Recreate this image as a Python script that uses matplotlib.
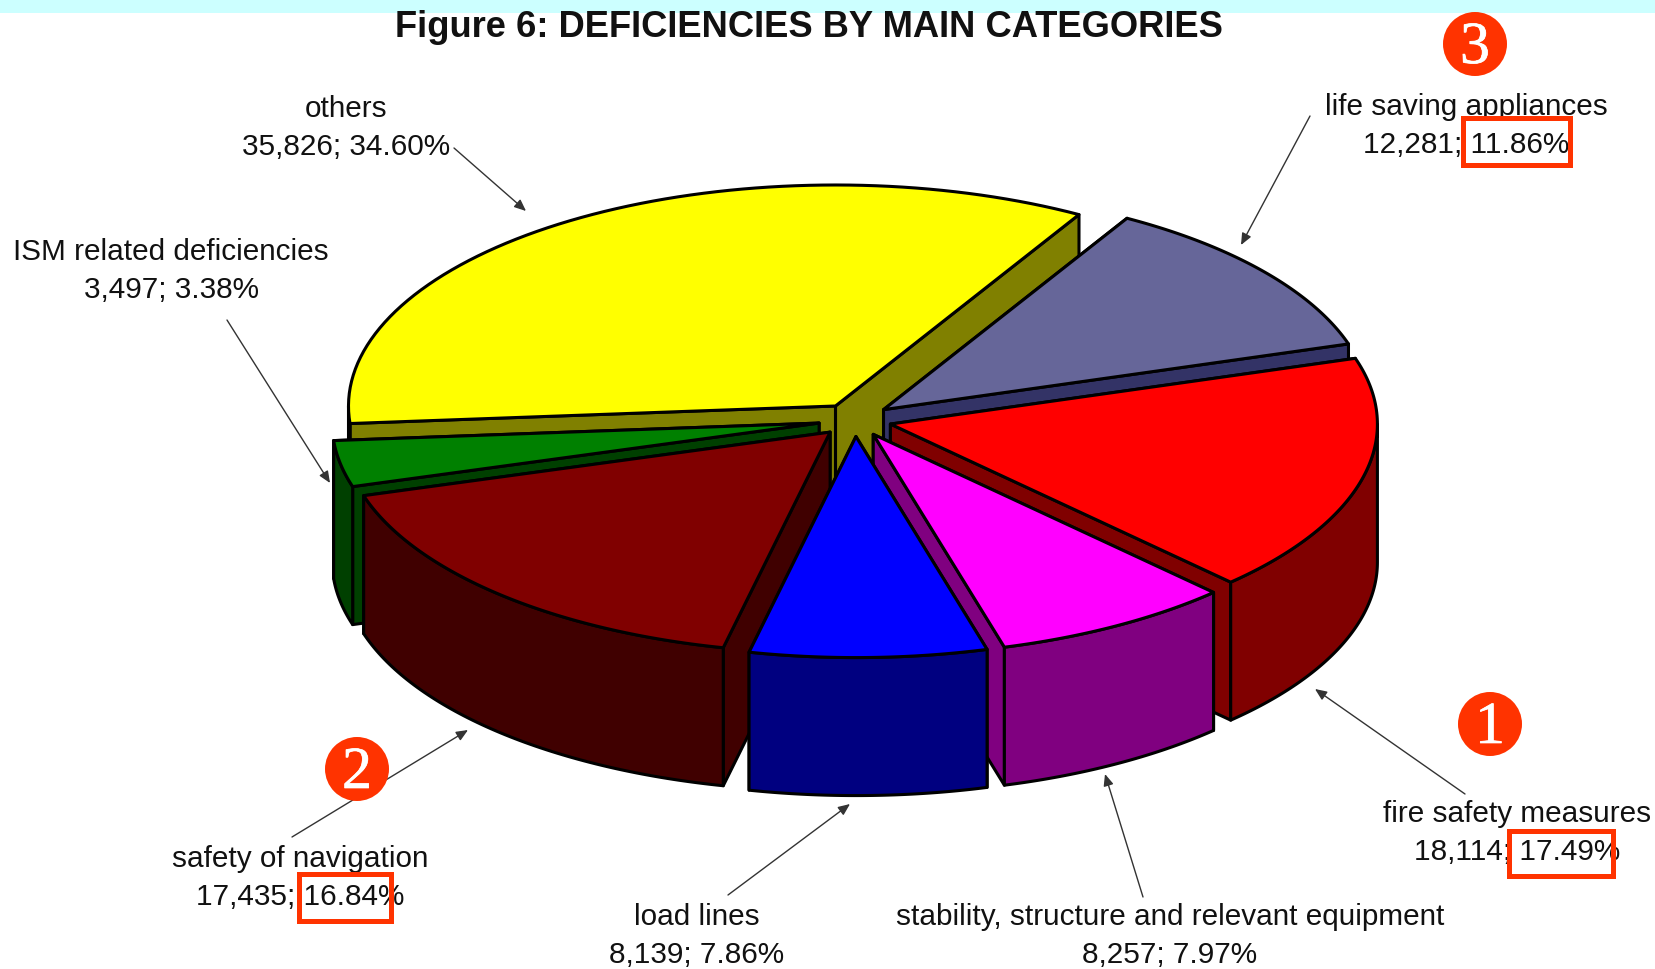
import numpy as np
import matplotlib
matplotlib.use('Agg')
import matplotlib.pyplot as plt
import matplotlib.patheffects as pe
from matplotlib.patches import Polygon, Circle, Rectangle

plt.rcParams['font.family'] = ['Liberation Sans', 'DejaVu Sans']

# data, clockwise from the start angle
categories = ['life saving appliances', 'fire safety measures',
              'stability, structure and relevant equipment', 'load lines',
              'safety of navigation', 'ISM related deficiencies', 'others']
values = [12281, 18114, 8257, 8139, 17435, 3497, 35826]
top_colors = ['#666699', '#FF0000', '#FF00FF', '#0000FF', '#800000', '#008000', '#FFFF00']
side_colors = ['#333366', '#800000', '#800080', '#000080', '#400000', '#004000', '#808000']

# pie geometry, in pixels of the picture
cx, cy = 855, 420
rx, ry = 487, 221
depth = 138
explode = 0.075
start = 60.0

# label centre x, line 1 y, line 2 y
label_pos = [(1466, 107, 145), (1517, 814, 852), (1170, 917, 955), (697, 917, 955),
             (300, 859, 897), (171, 252, 290), (346, 109, 147)]
# arrow from, arrow to
arrow_pos = [((1310, 116), (1241, 245)), ((1465, 794), (1315, 689)),
             ((1143, 897), (1105, 774)), ((728, 895), (850, 804)),
             ((292, 837), (468, 730)), ((227, 320), (330, 483)),
             ((454, 148), (526, 211))]

fig = plt.figure(figsize=(16.55, 9.69), dpi=100)
ax = fig.add_axes([0, 0, 1, 1])
ax.set_xlim(0, 1655)
ax.set_ylim(969, 0)
ax.axis('off')


def arc(ox, oy, a1, a2, drop=0):
    t = np.radians(np.linspace(a1, a2, 80))
    return np.column_stack([ox + rx*np.cos(t), oy - ry*np.sin(t) + drop])


def add_poly(pts, color, z):
    ax.add_patch(Polygon(pts, closed=True, facecolor=color, edgecolor='black',
                         linewidth=2.2, joinstyle='round', zorder=z))


# top strip
ax.add_patch(Rectangle((0, 0), 1655, 13, facecolor='#CCFFFF', edgecolor='none'))

sizes = np.array(values, dtype=float)
sweeps = 360.0*sizes/sizes.sum()
ends = start - np.cumsum(sweeps)
starts = ends + sweeps
mids = (starts + ends)/2

# back to front
order = np.argsort(-np.sin(np.radians(mids)))
z = 2
for i in order:
    a1, a2 = starts[i], ends[i]
    ox = cx + explode*rx*np.cos(np.radians(mids[i]))
    oy = cy - explode*ry*np.sin(np.radians(mids[i]))
    # cut faces, the one nearer the viewer last
    for a in sorted((a1, a2), key=lambda v: -np.sin(np.radians(v))):
        p = arc(ox, oy, a, a)[0]
        add_poly([(ox, oy), p, (p[0], p[1]+depth), (ox, oy+depth)], side_colors[i], z)
    # rim, front half only
    f1, f2 = min(a1, 0), max(a2, -180)
    if f1 > f2:
        rim = np.vstack([arc(ox, oy, f1, f2), arc(ox, oy, f2, f1, depth)])
        add_poly(rim, side_colors[i], z)
    # top face
    add_poly(np.vstack([[(ox, oy)], arc(ox, oy, a1, a2)]), top_colors[i], z)
    z += 1

# labels and arrows
total = sum(values)
for i in range(len(categories)):
    x, y1, y2 = label_pos[i]
    ax.text(x, y1, categories[i], fontsize=21.4, ha='center', va='center', color='#111111', zorder=20)
    ax.text(x, y2, '{:,}; {:.2f}%'.format(values[i], 100.0*values[i]/total), fontsize=21.4,
            ha='center', va='center', color='#111111', zorder=20)
    ax.annotate('', xy=arrow_pos[i][1], xytext=arrow_pos[i][0], zorder=20,
                arrowprops=dict(arrowstyle='-|>,head_length=0.7,head_width=0.3', color='#333333',
                                lw=1, shrinkA=0, shrinkB=0))

ax.text(809, 27, 'Figure 6: DEFICIENCIES BY MAIN CATEGORIES', fontsize=26.2, fontweight='bold',
        ha='center', va='center', color='#111111', zorder=20)

# red highlight boxes and numbered circles
for bx, by, bw, bh in [(1463, 118, 107, 47), (299, 874, 92, 47), (1509, 831, 104, 45)]:
    ax.add_patch(Rectangle((bx, by), bw, bh, fill=False, edgecolor='#FF3300', linewidth=3.6, zorder=21))
for num, px, py in [('1', 1490, 724), ('2', 357, 769), ('3', 1475, 44)]:
    ax.add_patch(Circle((px, py), 32, facecolor='#FF3300', edgecolor='none', zorder=22))
    t = ax.text(px, py+5, num, fontsize=43, family='Liberation Serif', color='white',
                ha='center', va='center', zorder=23)
    t.set_path_effects([pe.withStroke(linewidth=0.5, foreground='white')])

fig.savefig('out.png', dpi=100, facecolor='white')
